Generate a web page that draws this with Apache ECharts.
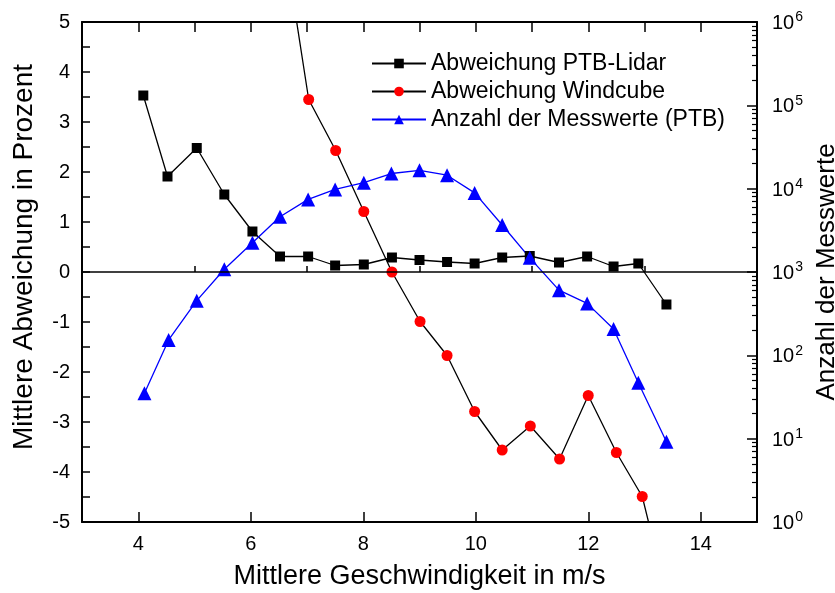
<!DOCTYPE html>
<html>
<head>
    <meta charset="utf-8">
    <title>Abweichung und Anzahl der Messwerte</title>
    <script src="https://cdn.jsdelivr.net/npm/echarts@6/dist/echarts.min.js"></script>
    <style>
        html, body { margin: 0; padding: 0; background: #ffffff; }
        #chart { width: 835px; height: 593px; }
    </style>
</head>
<body>
<div id="chart"></div>
<script>
    // Abweichung PTB-Lidar (%)
    var ptbSpeed = [4.09, 4.52, 5.04, 5.53, 6.03, 6.52, 7.02, 7.50, 8.01, 8.51, 9.00, 9.49, 9.98, 10.47, 10.96, 11.48, 11.98, 12.45, 12.89, 13.39];
    var ptbDev = [3.53, 1.91, 2.48, 1.55, 0.81, 0.31, 0.31, 0.13, 0.15, 0.29, 0.24, 0.20, 0.17, 0.29, 0.32, 0.19, 0.31, 0.11, 0.17, -0.65];

    // Abweichung Windcube (%)
    var wcSpeed = [6.50, 7.03, 7.51, 8.01, 8.51, 9.01, 9.49, 9.98, 10.47, 10.97, 11.49, 12.00, 12.50, 12.96, 13.40];
    var wcDev = [7.3, 3.45, 2.43, 1.21, 0.0, -0.99, -1.67, -2.79, -3.56, -3.08, -3.74, -2.47, -3.61, -4.49, -6.5];

    // Anzahl der Messwerte (PTB), log-Achse rechts
    var cntSpeed = [4.11, 4.54, 5.04, 5.53, 6.03, 6.52, 7.02, 7.50, 8.01, 8.50, 9.00, 9.49, 9.98, 10.47, 10.96, 11.48, 11.98, 12.45, 12.89, 13.39];
    var cntValue = [35, 153, 453, 1080, 2240, 4600, 7430, 9800, 11800, 15200, 16600, 14500, 8900, 3660, 1480, 605, 420, 207, 47, 9.2];

    // Achsenbeschriftung / Ticks
    var xLabelTicks = [4, 6, 8, 10, 12, 14];
    var xMinorTicks = [5, 7, 9, 11, 13];
    var xTopTicks = [4, 5, 6, 7, 8, 9, 10, 11, 12, 13, 14];
    var logMinorTicks = [];
    [1, 10, 100, 1000, 10000, 100000].forEach(function (d) {
        for (var k = 2; k <= 9; k++) logMinorTicks.push(k * d);
    });

    function pairs(xs, ys) {
        return xs.map(function (x, i) { return [x, ys[i]]; });
    }

    var font = 'Liberation Sans, Arial, sans-serif';
    var chart = echarts.init(document.getElementById('chart'));

    var option = {
        backgroundColor: '#ffffff',
        animation: false,
        textStyle: { fontFamily: font, color: '#000' },
        grid: { left: 82, right: 78, top: 22, bottom: 71, outerBoundsMode: 'none' },
        legend: {
            orient: 'vertical',
            left: 366,
            top: 47,
            itemWidth: 54,
            itemHeight: 12,
            itemGap: 5,
            textStyle: { fontSize: 23, fontFamily: font, color: '#000' },
            data: ['Abweichung PTB-Lidar', 'Abweichung Windcube', 'Anzahl der Messwerte (PTB)']
        },
        xAxis: [{
            type: 'value',
            position: 'bottom',
            min: 3,
            max: 15,
            name: 'Mittlere Geschwindigkeit in m/s',
            nameLocation: 'middle',
            nameGap: 41,
            nameTextStyle: { fontSize: 27, fontFamily: font, color: '#000' },
            axisLine: { onZero: false, lineStyle: { color: '#000', width: 2 } },
            axisTick: { inside: true, length: 10, customValues: xLabelTicks, lineStyle: { color: '#000', width: 1.5 } },
            axisLabel: { customValues: xLabelTicks, fontSize: 20, margin: 12, color: '#000' },
            splitLine: { show: false }
        }, {
            type: 'value',
            position: 'bottom',
            min: 3,
            max: 15,
            axisLine: { show: false },
            axisTick: { inside: true, length: 6, customValues: xMinorTicks, lineStyle: { color: '#000', width: 1.5 } },
            axisLabel: { show: false },
            splitLine: { show: false }
        }, {
            type: 'value',
            position: 'top',
            min: 3,
            max: 15,
            axisLine: { onZero: false, lineStyle: { color: '#000', width: 2 } },
            axisTick: { inside: true, length: 10, customValues: xTopTicks, lineStyle: { color: '#000', width: 1.5 } },
            axisLabel: { show: false },
            splitLine: { show: false }
        }],
        yAxis: [{
            type: 'value',
            position: 'left',
            min: -5,
            max: 5,
            interval: 1,
            name: 'Mittlere Abweichung in Prozent',
            nameLocation: 'middle',
            nameGap: 44,
            nameTextStyle: { fontSize: 28, fontFamily: font, color: '#000', padding: [0, 0, 0, 30] },
            axisLine: { onZero: false, lineStyle: { color: '#000', width: 2 } },
            axisTick: { inside: true, length: 8, lineStyle: { color: '#000', width: 1.5 } },
            minorTick: { show: true, splitNumber: 2, length: 8, lineStyle: { color: '#000', width: 1.5 } },
            axisLabel: { fontSize: 20, margin: 12, color: '#000' },
            splitLine: { show: false }
        }, {
            type: 'log',
            logBase: 10,
            position: 'right',
            min: 1,
            max: 1000000,
            splitNumber: 6,
            name: 'Anzahl der Messwerte',
            nameLocation: 'middle',
            nameGap: 46,
            nameRotate: 90,
            nameTextStyle: { fontSize: 26, fontFamily: font, color: '#000' },
            axisLine: { lineStyle: { color: '#000', width: 2 } },
            axisTick: { inside: true, length: 10, lineStyle: { color: '#000', width: 1.5 } },
            axisLabel: {
                margin: 15,
                color: '#000',
                formatter: function (v) {
                    return '{b|10}{s|' + Math.round(Math.log10(v)) + '}';
                },
                rich: {
                    b: { fontSize: 20, fontFamily: font, color: '#000', verticalAlign: 'bottom' },
                    s: { fontSize: 14, fontFamily: font, color: '#000', verticalAlign: 'bottom', padding: [0, 0, 9, 1] }
                }
            },
            splitLine: { show: false }
        }, {
            type: 'log',
            logBase: 10,
            position: 'right',
            min: 1,
            max: 1000000,
            axisLine: { show: false },
            axisTick: { inside: true, length: 5, customValues: logMinorTicks, lineStyle: { color: '#000', width: 1.2 } },
            axisLabel: { show: false },
            splitLine: { show: false }
        }],
        series: [{
            name: 'Abweichung PTB-Lidar',
            type: 'line',
            xAxisIndex: 0,
            yAxisIndex: 0,
            data: pairs(ptbSpeed, ptbDev),
            symbol: 'rect',
            symbolSize: 10,
            itemStyle: { color: '#000' },
            lineStyle: { color: '#000', width: 1.3 },
            markLine: {
                silent: true,
                symbol: 'none',
                label: { show: false },
                lineStyle: { color: '#000', width: 1.5, type: 'solid' },
                data: [{ yAxis: 0 }]
            }
        }, {
            name: 'Abweichung Windcube',
            type: 'line',
            xAxisIndex: 0,
            yAxisIndex: 0,
            data: pairs(wcSpeed, wcDev),
            symbol: 'circle',
            symbolSize: 11,
            itemStyle: { color: '#ff0000' },
            lineStyle: { color: '#000', width: 1.3 }
        }, {
            name: 'Anzahl der Messwerte (PTB)',
            type: 'line',
            xAxisIndex: 0,
            yAxisIndex: 1,
            data: pairs(cntSpeed, cntValue),
            symbol: 'triangle',
            symbolSize: 14,
            itemStyle: { color: '#0000ff' },
            lineStyle: { color: '#0000ff', width: 1.3 }
        }]
    };

    chart.setOption(option);
</script>
</body>
</html>
